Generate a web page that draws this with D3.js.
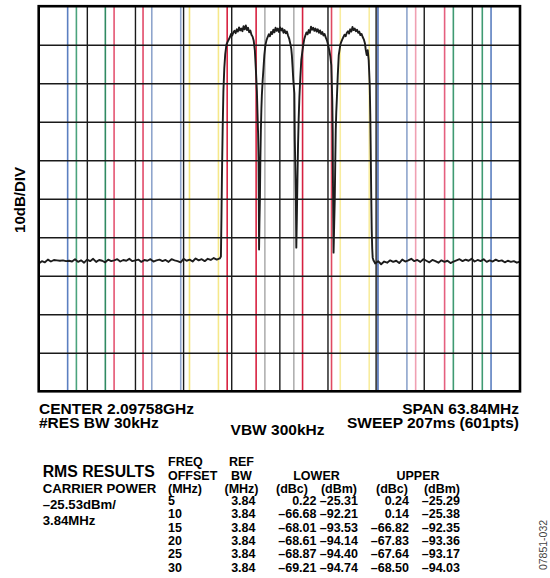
<!DOCTYPE html>
<html>
<head>
<meta charset="utf-8">
<script src="https://cdn.jsdelivr.net/npm/d3@7"></script>
<style>
  body { margin: 0; background: #fff; }
  text { font-family: "Liberation Sans", Arial, sans-serif; }
</style>
</head>
<body>
<div id="chart"></div>
<script>
// spectrum trace, [offset from center MHz, level dB below top line]
var traceLow = [
  [-31.9,-66.8],[-31.5,-66.2],[-31.1,-66.5],[-30.7,-65.8],[-30.3,-66.3],[-29.9,-65.9],[-29.5,-66.0],[-29.1,-66.1],
  [-28.7,-66.0],[-28.3,-66.2],[-27.9,-66.1],[-27.5,-66.3],[-27.1,-65.7],[-26.7,-66.4],[-26.3,-66.0],[-25.9,-66.6],
  [-25.5,-65.8],[-25.1,-66.2],[-24.7,-65.6],[-24.3,-66.4],[-23.9,-65.9],[-23.5,-66.1],[-23.1,-66.5],[-22.7,-65.8],
  [-22.3,-66.2],[-21.9,-66.0],[-21.5,-65.7],[-21.1,-66.3],[-20.7,-65.9],[-20.3,-66.1],[-19.9,-65.6],[-19.5,-66.2],
  [-19.1,-66.0],[-18.7,-65.8],[-18.3,-66.4],[-17.9,-65.9],[-17.5,-66.1],[-17.1,-65.7],[-16.7,-66.3],[-16.3,-66.0],
  [-15.9,-65.8],[-15.5,-66.2],[-15.1,-65.9],[-14.7,-66.4],[-14.3,-65.7],[-13.9,-66.0],[-13.5,-66.2],[-13.1,-66.5],
  [-12.7,-65.6],[-12.3,-66.1],[-11.9,-65.8],[-11.5,-66.3],[-11.1,-65.5],[-10.7,-66.0],[-10.3,-65.7],[-9.9,-66.2],
  [-9.5,-65.6],[-9.1,-65.9],[-8.7,-65.4],[-8.3,-65.8],[-7.9,-65.5]
];
var traceCarriers = [
  [-7.75,-65.0],[-7.68,-55.0],[-7.62,-45.0],[-7.52,-32.0],[-7.42,-22.0],[-7.30,-16.0],[-7.18,-12.5],[-7.02,-10.0],
  [-6.85,-9.2],[-6.70,-8.6],[-6.55,-8.0],[-6.40,-7.2],[-6.25,-7.6],[-6.10,-6.8],[-5.95,-6.4],[-5.80,-7.0],
  [-5.65,-6.0],[-5.50,-6.6],[-5.35,-5.5],[-5.20,-6.3],[-5.05,-5.8],[-4.90,-6.5],[-4.75,-5.2],[-4.60,-6.0],
  [-4.45,-5.0],[-4.30,-6.2],[-4.15,-5.6],[-4.00,-6.8],[-3.85,-6.3],[-3.70,-7.4],[-3.55,-7.9],[-3.40,-9.0],
  [-3.25,-11.5],[-3.11,-16.6],[-2.98,-22.0],[-2.91,-26.9],[-2.82,-33.0],[-2.76,-40.0],[-2.72,-52.0],[-2.69,-63.2],
  [-2.64,-56.0],[-2.58,-50.3],[-2.52,-40.0],[-2.45,-32.1],[-2.38,-26.5],[-2.32,-23.1],[-2.22,-19.5],[-2.12,-16.6],
  [-1.99,-12.7],[-1.85,-10.1],[-1.70,-8.8],[-1.55,-8.0],[-1.40,-7.3],[-1.25,-7.8],[-1.10,-6.7],[-0.95,-7.2],
  [-0.80,-6.1],[-0.65,-6.8],[-0.50,-5.6],[-0.35,-6.4],[-0.20,-5.8],[-0.05,-6.7],[0.10,-5.5],[0.25,-6.3],
  [0.40,-5.8],[0.55,-6.9],[0.70,-6.2],[0.85,-7.0],[1.00,-6.6],[1.15,-7.6],[1.30,-8.4],[1.46,-9.8],
  [1.58,-11.0],[1.66,-12.7],[1.76,-16.0],[1.85,-19.2],[1.99,-22.6],[2.05,-34.7],[2.12,-42.0],[2.19,-50.0],
  [2.25,-62.7],[2.32,-55.0],[2.40,-45.0],[2.48,-36.0],[2.56,-29.5],[2.66,-23.5],[2.78,-18.5],[2.91,-14.0],
  [3.05,-11.8],[3.18,-10.0],[3.30,-8.6],[3.45,-7.6],[3.60,-6.8],[3.75,-7.3],[3.90,-6.2],[4.05,-6.9],
  [4.20,-5.3],[4.35,-6.1],[4.50,-5.6],[4.65,-6.4],[4.80,-5.8],[4.95,-6.6],[5.10,-6.0],[5.25,-6.9],
  [5.40,-6.3],[5.55,-7.2],[5.70,-6.7],[5.85,-7.6],[6.00,-7.2],[6.15,-8.1],[6.30,-8.8],[6.45,-9.9],
  [6.62,-11.4],[6.76,-13.0],[6.89,-15.3],[7.02,-24.4],[7.08,-33.0],[7.11,-45.0],[7.15,-55.0],[7.19,-64.0],
  [7.27,-57.0],[7.35,-50.3],[7.42,-40.0],[7.48,-32.1],[7.55,-27.5],[7.62,-24.4],[7.75,-17.9],[7.88,-12.7],
  [8.08,-10.1],[8.20,-9.3],[8.35,-8.6],[8.50,-8.0],[8.65,-7.4],[8.80,-7.8],[8.95,-6.9],[9.10,-6.5],
  [9.25,-7.1],[9.40,-6.0],[9.55,-6.6],[9.70,-5.4],[9.85,-6.2],[10.00,-5.8],[10.15,-6.5],[10.30,-6.1],
  [10.45,-6.9],[10.60,-6.6],[10.75,-7.5],[10.90,-7.2],[11.05,-8.0],[11.20,-8.6],[11.35,-9.6],[11.45,-11.2],
  [11.59,-12.7],[11.72,-11.4],[11.85,-14.0],[11.99,-20.5],[12.06,-28.0],[12.12,-37.3],[12.18,-48.0],[12.25,-58.0],
  [12.32,-63.0],[12.38,-65.3],[12.48,-66.0],[12.58,-66.3]
];
var traceHigh = [
  [12.7,-66.8],[13.1,-66.2],[13.5,-67.0],[13.9,-66.3],[14.3,-66.6],[14.7,-66.0],[15.1,-66.4],[15.5,-66.1],
  [15.9,-66.7],[16.3,-65.8],[16.7,-66.3],[17.1,-66.0],[17.5,-65.6],[17.9,-66.2],[18.3,-65.9],[18.7,-66.4],
  [19.1,-65.7],[19.5,-66.1],[19.9,-66.5],[20.3,-65.9],[20.7,-66.2],[21.1,-66.6],[21.5,-66.0],[21.9,-66.4],
  [22.3,-66.1],[22.7,-66.7],[23.1,-66.3],[23.5,-66.0],[23.9,-65.7],[24.3,-66.2],[24.7,-65.8],[25.1,-66.1],
  [25.5,-65.6],[25.9,-66.3],[26.3,-65.9],[26.7,-66.2],[27.1,-65.7],[27.5,-66.4],[27.9,-66.0],[28.3,-66.3],
  [28.7,-65.8],[29.1,-66.2],[29.5,-66.0],[29.9,-66.5],[30.3,-66.1],[30.7,-66.4],[31.1,-66.2],[31.5,-66.6],
  [31.9,-66.3]
];

// integration channel markers (center MHz, 3.84 MHz wide), edge colours left/right
var channelMHz = [-30, -25, -20, -15, -10, -5, 0, 5, 10, 15, 20, 25, 30];
var refBwMHz = 3.84;
var channelColors = [
  ["#5b7fc0", "#5b7fc0"], ["#4aa37c", "#2f8a62"], ["#e55572", "#e24a68"], ["#8ea4cc", "#8ea4cc"],
  ["#f3e27a", "#f6e88a"], ["#d8203f", "#d8203f"], ["#b0b0b0", "#b0b0b0"], ["#d62040", "#e04a62"],
  ["#f8ec9e", "#f8ec9e"], ["#4d6db5", "#8ea4cc"], ["#f0a0b2", "#e55f7e"], ["#3f9a72", "#3f9a72"],
  ["#5b7fc0", "#5b7fc0"]
];

var spanMHz = 63.84;
var dbPerDiv = 10;

// RMS results table
var offsetMHz = [5, 10, 15, 20, 25, 30];
var rowRefBw = [3.84, 3.84, 3.84, 3.84, 3.84, 3.84];
var lowerDbc = [0.22, -66.68, -68.01, -68.61, -68.87, -69.21];
var lowerDbm = [-25.31, -92.21, -93.53, -94.14, -94.40, -94.74];
var upperDbc = [0.24, 0.14, -66.82, -67.83, -67.64, -68.50];
var upperDbm = [-25.29, -25.38, -92.35, -93.36, -93.17, -94.03];
var carrierPower = -25.53;

var plot = { left: 38.7, right: 520, top: 6.2, bottom: 391.3 };

var svg = d3.select("#chart")
  .append("svg")
  .attr("width", 550)
  .attr("height", 578)
  .style("display", "block");

svg.append("rect").attr("width", 550).attr("height", 578).attr("fill", "#fff");

var x = d3.scaleLinear()
  .domain([-spanMHz / 2, spanMHz / 2])
  .range([plot.left, plot.right]);

var y = d3.scaleLinear()
  .domain([-10 * dbPerDiv, 0])
  .range([plot.bottom, plot.top]);

var plotW = plot.right - plot.left;
var plotH = plot.bottom - plot.top;

// channel marker lines
var edges = [];
channelMHz.forEach(function(c, i) {
  edges.push({ f: c - refBwMHz / 2, color: channelColors[i][0] });
  edges.push({ f: c + refBwMHz / 2, color: channelColors[i][1] });
});

svg.append("g")
  .selectAll("line")
  .data(edges.filter(function(d) { return d.f > x.domain()[0] && d.f < x.domain()[1]; }))
  .enter()
  .append("line")
  .attr("x1", function(d) { return x(d.f); })
  .attr("x2", function(d) { return x(d.f); })
  .attr("y1", plot.top)
  .attr("y2", plot.bottom)
  .attr("stroke", function(d) { return d.color; })
  .attr("stroke-width", 1.6);

// grid, 10 divisions each way
var xGrid = d3.range(1, 10).map(function(i) { return x.domain()[0] + i * spanMHz / 10; });
var yGrid = d3.range(1, 10).map(function(i) { return -i * dbPerDiv; });

svg.append("g")
  .attr("transform", "translate(0," + plot.bottom + ")")
  .call(d3.axisBottom(x).tickValues(xGrid).tickSize(-plotH).tickFormat(""))
  .call(function(g) { g.select(".domain").remove(); })
  .selectAll("line")
  .attr("stroke", "#1a1a1a")
  .attr("stroke-width", 1.4);

svg.append("g")
  .attr("transform", "translate(" + plot.left + ",0)")
  .call(d3.axisLeft(y).tickValues(yGrid).tickSize(-plotW).tickFormat(""))
  .call(function(g) { g.select(".domain").remove(); })
  .selectAll("line")
  .attr("stroke", "#1a1a1a")
  .attr("stroke-width", 1.4);

// the trace
var trace = traceLow.concat(traceCarriers, traceHigh);
var line = d3.line()
  .x(function(d) { return x(d[0]); })
  .y(function(d) { return y(d[1]); });

svg.append("path")
  .datum(trace)
  .attr("d", line)
  .attr("fill", "none")
  .attr("stroke", "#1c1c1c")
  .attr("stroke-width", 1.9)
  .attr("stroke-linejoin", "round");

// frame
svg.append("rect")
  .attr("x", plot.left)
  .attr("y", plot.top)
  .attr("width", plotW)
  .attr("height", plotH)
  .attr("fill", "none")
  .attr("stroke", "#000")
  .attr("stroke-width", 2.6);

svg.append("text")
  .attr("transform", "translate(25,200) rotate(-90)")
  .attr("text-anchor", "middle")
  .style("font-size", "15px")
  .style("font-weight", "bold")
  .text(dbPerDiv + "dB/DIV");

// settings below the grid
function label(t, xx, yy, size, anchor) {
  return svg.append("text")
    .attr("x", xx)
    .attr("y", yy)
    .attr("text-anchor", anchor || "start")
    .style("font-size", size + "px")
    .style("font-weight", "bold")
    .text(t);
}

label("CENTER 2.09758GHz", 39, 413.5, 15.5);
label("#RES BW 30kHz", 39, 427.5, 15.5);
label("SPAN " + spanMHz + "MHz", 519, 413.5, 15.5, "end");
label("SWEEP 207ms (601pts)", 519, 427.5, 15.5, "end");
label("VBW 300kHz", 277.5, 435, 15.5, "middle");

function fmt(v) {
  return (v < 0 ? "\u2013" : "") + Math.abs(v).toFixed(2);
}

label("RMS RESULTS", 42.7, 477, 15.8);
label("CARRIER POWER", 42.7, 493.3, 13.2);
label(fmt(carrierPower) + "dBm/", 42.7, 508.5, 13.2);
label(refBwMHz + "MHz", 42.7, 525, 13.2);

var th = 12.5;
label("FREQ", 168, 466, th);
label("OFFSET", 168, 479.5, th);
label("(MHz)", 168, 493.3, th);
label("REF", 229, 466, th);
label("BW", 231, 479.5, th);
label("(MHz)", 224.5, 493.3, th);
label("LOWER", 316.5, 479.5, th, "middle");
label("UPPER", 418, 479.5, th, "middle");
label("(dBc)", 308, 493.3, th, "end");
label("(dBm)", 357, 493.3, th, "end");
label("(dBc)", 408, 493.3, th, "end");
label("(dBm)", 460, 493.3, th, "end");

offsetMHz.forEach(function(o, i) {
  var by = 505 + i * 13.35;
  label(String(o), 168, by, th);
  label(rowRefBw[i].toFixed(2), 255.5, by, th, "end");
  label(fmt(lowerDbc[i]), 316.5, by, th, "end");
  label(fmt(lowerDbm[i]), 358, by, th, "end");
  label(fmt(upperDbc[i]), 409, by, th, "end");
  label(fmt(upperDbm[i]), 460, by, th, "end");
});

svg.append("text")
  .attr("transform", "translate(547,545) rotate(-90)")
  .attr("text-anchor", "middle")
  .style("font-size", "10.5px")
  .attr("fill", "#444")
  .text("07851-032");
</script>
</body>
</html>
